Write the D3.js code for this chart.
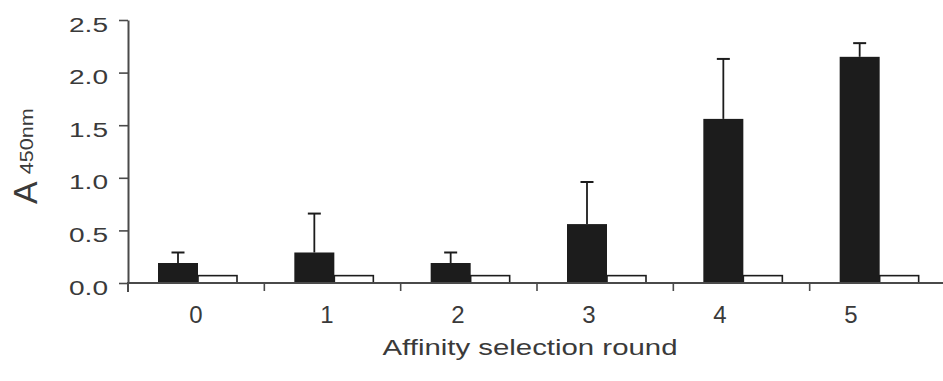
<!DOCTYPE html>
<html>
<head>
<meta charset="utf-8">
<script src="https://cdn.jsdelivr.net/npm/d3@7"></script>
<style>
  body { margin: 0; background: #fff; }
  svg { display: block; }
</style>
</head>
<body>
<script>
// affinity selection rounds, ELISA readout
const rounds = ['0', '1', '2', '3', '4', '5'];
const selected = [0.19, 0.29, 0.19, 0.56, 1.56, 2.15];
const selectedErr = [0.10, 0.37, 0.10, 0.40, 0.57, 0.13];
const control = [0.07, 0.07, 0.07, 0.07, 0.07, 0.07];
const yTicks = [0, 0.5, 1.0, 1.5, 2.0, 2.5];

const width = 943;
const height = 381;

const axisColor = '#4a4a4a';
const textColor = '#3a3a3a';
const barColor = '#1c1c1c';

const svg = d3.select('body').append('svg')
  .attr('width', width)
  .attr('height', height);

const y = d3.scaleLinear()
  .domain([0, 2.5])
  .range([283, 20]);

const x = d3.scaleBand()
  .domain(rounds)
  .range([128, 946]);

// position of the two bars inside one round
const xInner = d3.scaleBand()
  .domain(['selected', 'control'])
  .range([30, 110]);

// the round labels sit on their own spacing in the original
const xLabel = d3.scalePoint()
  .domain(rounds)
  .range([196, 851]);

// bars
const g = svg.append('g');

g.selectAll('.ctl')
  .data(rounds)
  .enter()
  .append('rect')
  .attr('x', d => x(d) + xInner('control'))
  .attr('y', (d, i) => y(control[i]))
  .attr('width', xInner.bandwidth() - 1)
  .attr('height', (d, i) => y(0) - y(control[i]))
  .attr('fill', '#fff')
  .attr('stroke', barColor)
  .attr('stroke-width', 1.6);

// error bars (upper only)
g.selectAll('.err')
  .data(rounds)
  .enter()
  .append('line')
  .attr('x1', d => x(d) + xInner('selected') + xInner.bandwidth() / 2)
  .attr('x2', d => x(d) + xInner('selected') + xInner.bandwidth() / 2)
  .attr('y1', (d, i) => y(selected[i]))
  .attr('y2', (d, i) => y(selected[i] + selectedErr[i]))
  .attr('stroke', barColor)
  .attr('stroke-width', 1.8);

g.selectAll('.cap')
  .data(rounds)
  .enter()
  .append('line')
  .attr('x1', d => x(d) + xInner('selected') + xInner.bandwidth() / 2 - 6.5)
  .attr('x2', d => x(d) + xInner('selected') + xInner.bandwidth() / 2 + 6.5)
  .attr('y1', (d, i) => y(selected[i] + selectedErr[i]))
  .attr('y2', (d, i) => y(selected[i] + selectedErr[i]))
  .attr('stroke', barColor)
  .attr('stroke-width', 2);

g.selectAll('.sel')
  .data(rounds)
  .enter()
  .append('rect')
  .attr('x', d => x(d) + xInner('selected'))
  .attr('y', (d, i) => y(selected[i]))
  .attr('width', xInner.bandwidth())
  .attr('height', (d, i) => y(0) - y(selected[i]))
  .attr('fill', barColor);

// y axis
const yAxis = svg.append('g')
  .attr('transform', 'translate(128,0)')
  .call(d3.axisLeft(y)
    .tickValues(yTicks)
    .tickSize(9)
    .tickSizeOuter(0)
    .tickPadding(11)
    .tickFormat(d3.format('.1f')));

yAxis.select('.domain')
  .attr('stroke', axisColor)
  .attr('stroke-width', 2);
yAxis.selectAll('.tick line')
  .attr('stroke', axisColor)
  .attr('stroke-width', 1.6);
yAxis.selectAll('.tick text')
  .attr('fill', textColor)
  .attr('font-family', 'Liberation Sans, Arial, sans-serif')
  .attr('font-size', 20)
  .attr('dy', '0.55em')
  .attr('textLength', 39)
  .attr('lengthAdjust', 'spacingAndGlyphs');

// x axis line and round boundary ticks
svg.append('line')
  .attr('x1', 127)
  .attr('x2', width)
  .attr('y1', y(0))
  .attr('y2', y(0))
  .attr('stroke', axisColor)
  .attr('stroke-width', 2);

svg.append('line')
  .attr('x1', 128)
  .attr('x2', 128)
  .attr('y1', y(0))
  .attr('y2', y(0) + 9)
  .attr('stroke', axisColor)
  .attr('stroke-width', 2);

svg.selectAll('.xtick')
  .data(rounds.slice(1))
  .enter()
  .append('line')
  .attr('x1', d => x(d))
  .attr('x2', d => x(d))
  .attr('y1', y(0))
  .attr('y2', y(0) + 8)
  .attr('stroke', axisColor)
  .attr('stroke-width', 1.6);

svg.selectAll('.xlabel')
  .data(rounds)
  .enter()
  .append('text')
  .attr('x', d => xLabel(d))
  .attr('y', 323)
  .attr('text-anchor', 'middle')
  .attr('fill', textColor)
  .attr('font-family', 'Liberation Sans, Arial, sans-serif')
  .attr('font-size', 24)
  .text(d => d);

// axis titles
svg.append('text')
  .attr('x', 530)
  .attr('y', 355)
  .attr('text-anchor', 'middle')
  .attr('fill', textColor)
  .attr('font-family', 'Liberation Sans, Arial, sans-serif')
  .attr('font-size', 22)
  .attr('textLength', 295)
  .attr('lengthAdjust', 'spacingAndGlyphs')
  .text('Affinity selection round');

const yTitle = svg.append('text')
  .attr('transform', 'translate(37,204) rotate(-90)')
  .attr('fill', textColor)
  .attr('font-family', 'Liberation Sans, Arial, sans-serif');

yTitle.append('tspan')
  .attr('font-size', 34)
  .text('A');

yTitle.append('tspan')
  .attr('dx', 7)
  .attr('dy', -4)
  .attr('font-size', 19)
  .attr('textLength', 66)
  .attr('lengthAdjust', 'spacingAndGlyphs')
  .text('450nm');
</script>
</body>
</html>
